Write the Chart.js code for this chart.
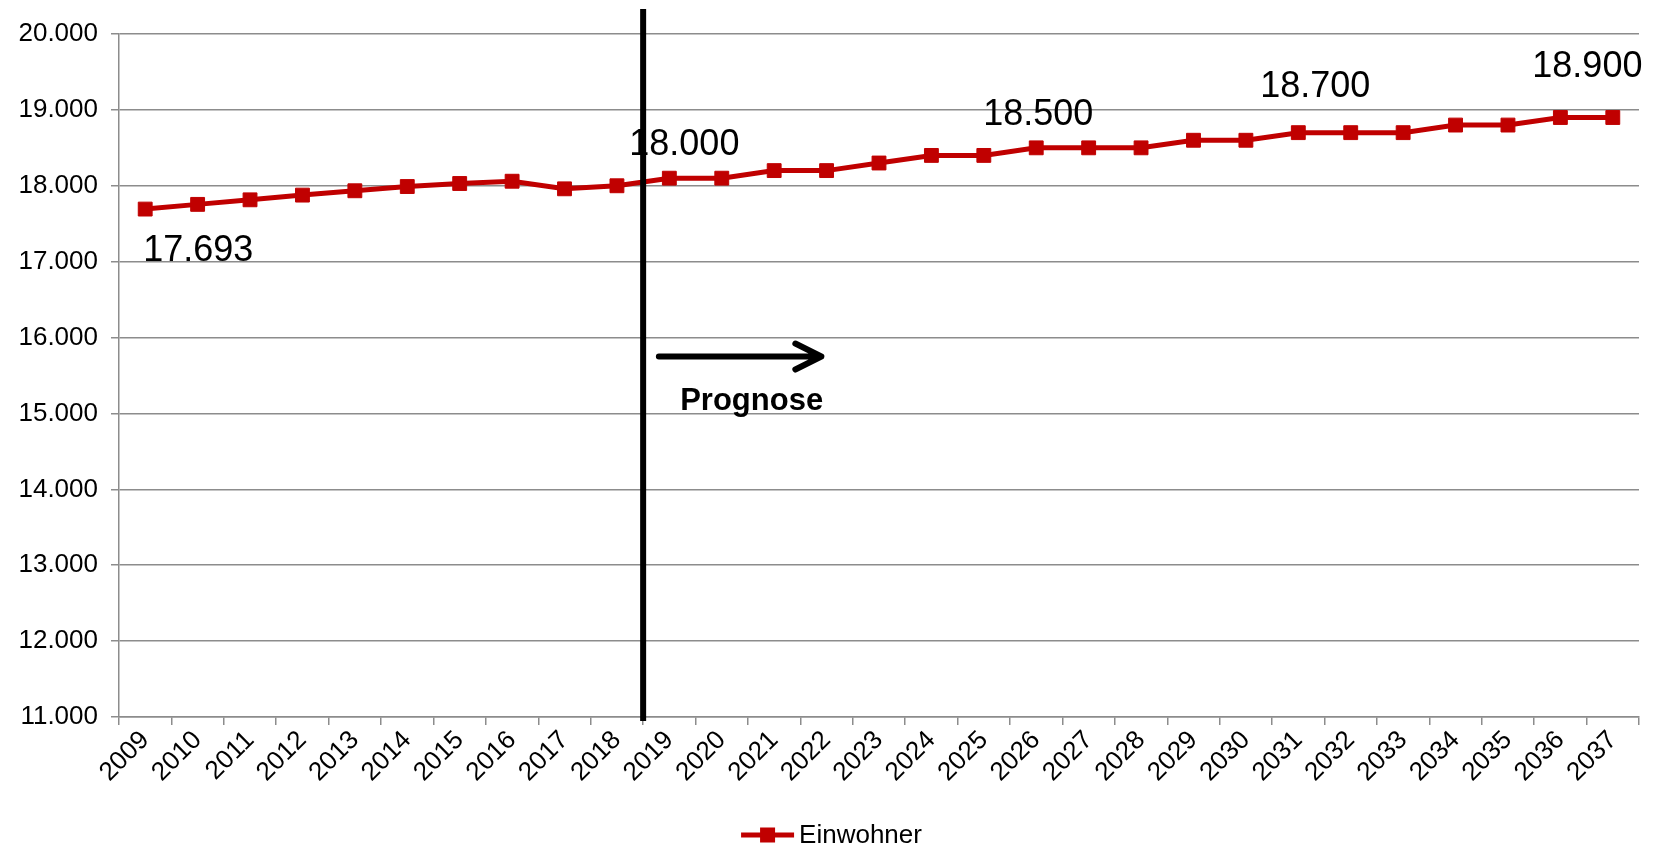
<!DOCTYPE html>
<html lang="de">
<head>
<meta charset="utf-8">
<title>Einwohner – Prognose</title>
<script src="https://cdn.jsdelivr.net/npm/chart.js@4.4.1/dist/chart.umd.min.js"></script>
<style>
  html, body { margin: 0; padding: 0; background: #fff; }
  #wrap { position: relative; width: 1663px; height: 846px; }
</style>
</head>
<body>
<div id="wrap"><canvas id="chart"></canvas></div>
<script>
// Data
const years = ['2009', '2010', '2011', '2012', '2013', '2014', '2015', '2016', '2017', '2018',
    '2019', '2020', '2021', '2022', '2023', '2024', '2025', '2026', '2027', '2028',
    '2029', '2030', '2031', '2032', '2033', '2034', '2035', '2036', '2037'];
const einwohner = [17693, 17755, 17815, 17877, 17934, 17990, 18030, 18060, 17960, 18000,
    18100, 18100, 18200, 18200, 18300, 18400, 18400, 18500, 18500, 18500,
    18600, 18600, 18700, 18700, 18700, 18800, 18800, 18900, 18900];
const yMin = 11000;
const yMax = 20000;
const yStep = 1000;
const calloutYears = ['2009', '2019', '2026', '2031', '2036'];
const calloutTexts = ['17.693', '18.000', '18.500', '18.700', '18.900'];
const prognoseFrom = '2019';
const prognoseLabel = 'Prognose';
const seriesName = 'Einwohner';

const RED = '#c00000';
const GRID = '#8c8c8c';
const FONT = "'Liberation Sans', Arial, sans-serif";

function formatDe(v) {
    return String(v).replace(/\B(?=(\d{3})+(?!\d))/g, '.');
}

// callout offsets relative to their point (px): [dx, dy to baseline]
const calloutOffsets = [[53, 52], [15, -23], [2, -23], [17, -36], [27, -40]];

const overlay = {
    id: 'overlay',
    afterDatasetsDraw(chart) {
        const { ctx, scales: { x, y } } = chart;
        const meta = chart.getDatasetMeta(0);
        ctx.save();

        // callout numbers
        ctx.fillStyle = '#000';
        ctx.font = `36px ${FONT}`;
        ctx.textAlign = 'center';
        ctx.textBaseline = 'alphabetic';
        calloutYears.forEach((yr, i) => {
            const pt = meta.data[years.indexOf(yr)];
            const [dx, dy] = calloutOffsets[i];
            ctx.fillText(calloutTexts[i], pt.x + dx, pt.y + dy);
        });

        // separator line before the forecast period
        const idx = years.indexOf(prognoseFrom);
        const sx = x.getPixelForValue(idx - 0.5);
        ctx.strokeStyle = '#000';
        ctx.lineWidth = 6;
        ctx.beginPath();
        ctx.moveTo(sx, 9);
        ctx.lineTo(sx, chart.chartArea.bottom + 4);
        ctx.stroke();

        // arrow
        const ay = y.getPixelForValue(15750);
        const ax1 = x.getPixelForValue(idx - 0.2);
        const ax2 = x.getPixelForValue(idx + 2.9);
        ctx.lineWidth = 6;
        ctx.lineCap = 'round';
        ctx.lineJoin = 'round';
        ctx.beginPath();
        ctx.moveTo(ax1, ay);
        ctx.lineTo(ax2, ay);
        ctx.moveTo(ax2 - 26, ay - 13);
        ctx.lineTo(ax2, ay);
        ctx.lineTo(ax2 - 26, ay + 13);
        ctx.stroke();

        ctx.font = `bold 31px ${FONT}`;
        ctx.fillText(prognoseLabel, x.getPixelForValue(idx + 1.57), ay + 53);

        // legend
        ctx.font = `26px ${FONT}`;
        ctx.textAlign = 'left';
        ctx.textBaseline = 'middle';
        const lineLen = 53, gap = 5;
        const tw = ctx.measureText(seriesName).width;
        const lx = chart.width / 2 - (lineLen + gap + tw) / 2;
        const ly = 835;
        ctx.strokeStyle = RED;
        ctx.lineWidth = 5;
        ctx.lineCap = 'butt';
        ctx.beginPath();
        ctx.moveTo(lx, ly);
        ctx.lineTo(lx + lineLen, ly);
        ctx.stroke();
        ctx.fillStyle = RED;
        ctx.fillRect(lx + lineLen / 2 - 7.5, ly - 7.5, 15, 15);
        ctx.fillStyle = '#000';
        ctx.fillText(seriesName, lx + lineLen + gap, ly + 1);

        ctx.restore();
    }
};

const chart = new Chart(document.getElementById('chart'), {
    type: 'line',
    data: {
        labels: years,
        datasets: [{
            label: seriesName,
            data: einwohner,
            borderColor: RED,
            backgroundColor: RED,
            borderWidth: 5,
            pointStyle: 'rect',
            pointRadius: 9.8,
            pointBorderWidth: 1,
            pointBackgroundColor: RED,
            pointBorderColor: RED,
            tension: 0
        }]
    },
    options: {
        responsive: true,
        maintainAspectRatio: false,
        animation: false,
        layout: { padding: { top: 34, right: 24, left: 0, bottom: 0 } },
        plugins: {
            legend: { display: false },
            tooltip: { enabled: false }
        },
        scales: {
            x: {
                offset: true,
                grid: { offset: true, drawOnChartArea: false, drawTicks: true, tickLength: 8, color: GRID, lineWidth: 1.5 },
                border: { color: GRID, width: 1.5 },
                ticks: {
                    autoSkip: false, minRotation: 45, maxRotation: 45, padding: 0,
                    color: '#000', font: { family: FONT, size: 26 }
                },
                afterFit(scale) { scale.height = 129; }
            },
            y: {
                min: yMin,
                max: yMax,
                grid: { color: GRID, lineWidth: 1.5, tickLength: 8 },
                border: { color: GRID, width: 1.5 },
                ticks: {
                    stepSize: yStep, padding: 13, color: '#000',
                    font: { family: FONT, size: 26 },
                    callback: v => formatDe(v)
                },
                afterFit(scale) { scale.width = 119; }
            }
        }
    },
    plugins: [overlay]
});
</script>
</body>
</html>
